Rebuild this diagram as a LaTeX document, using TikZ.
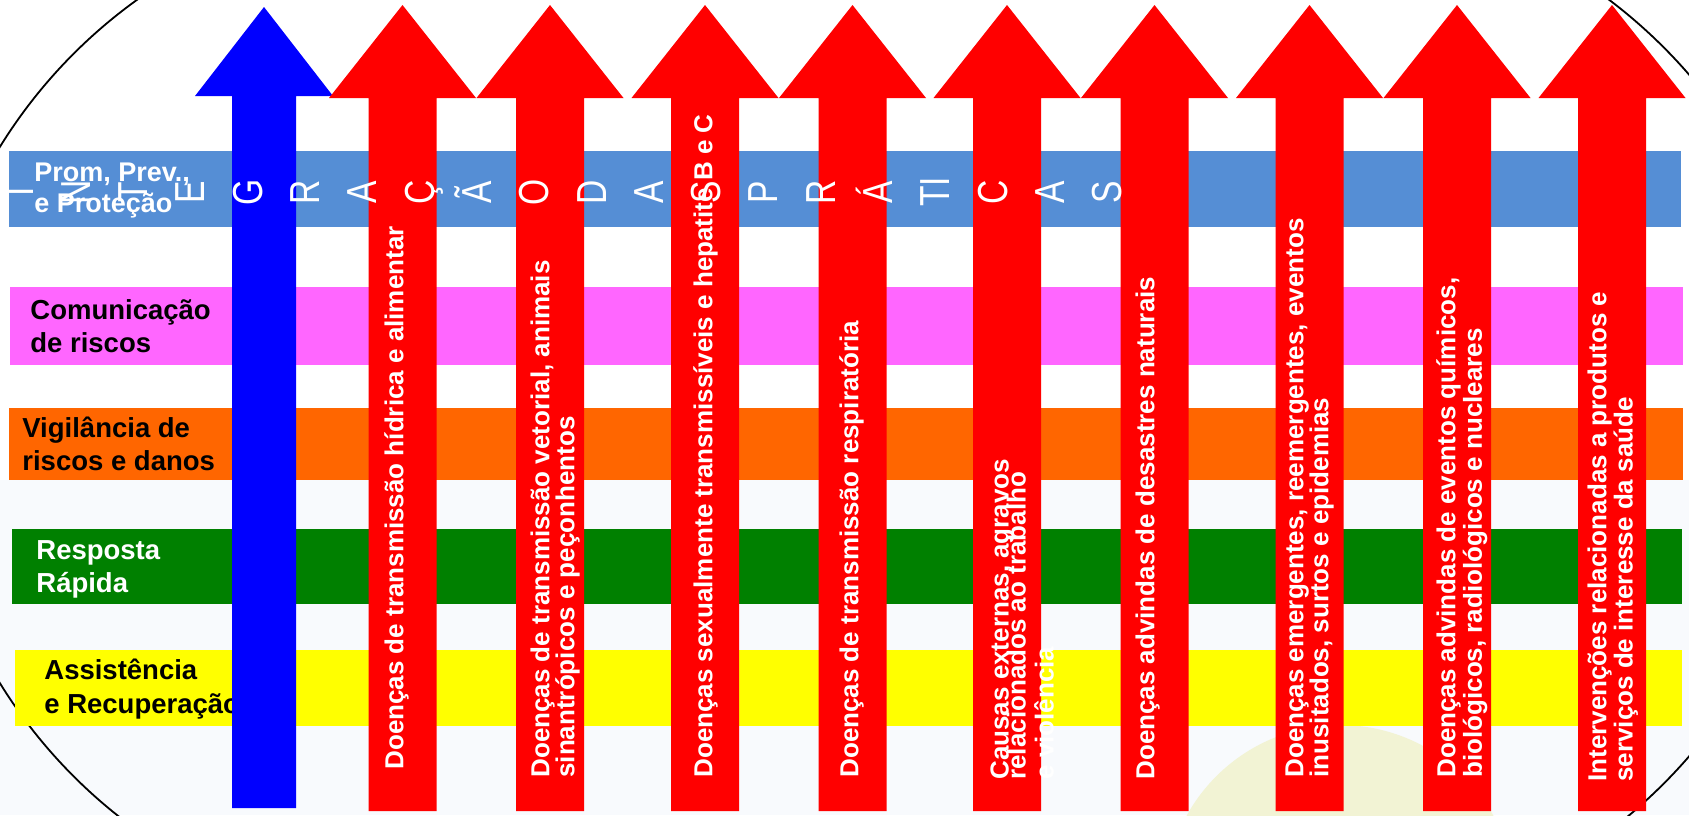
\documentclass[tikz,border=0pt]{standalone}
\usepackage{fontspec}
\setmainfont{Liberation Sans}
\definecolor{promblue}{RGB}{85,142,213}
\definecolor{commpink}{RGB}{255,102,255}
\definecolor{vigorange}{RGB}{255,102,0}
\definecolor{respgreen}{RGB}{0,128,0}
\definecolor{assistyellow}{RGB}{255,255,0}
\definecolor{arrowred}{RGB}{255,0,0}
\definecolor{arrowblue}{RGB}{0,0,255}
\definecolor{groundtint}{RGB}{248,250,253}
\definecolor{sunyellow}{RGB}{242,243,212}

\begin{document}
\begin{tikzpicture}[x=0.5pt, y=-0.5pt,
      band_label/.style ={anchor=north west, inner sep=0pt, align=left,
        font=\bfseries\fontsize{13.75}{16.5}\selectfont},
      arrow_text/.style ={anchor=north west, inner sep=0pt, rotate=90,
        align=left, text=white,
        font=\bfseries\fontsize{13}{12.5}\selectfont},
      big_letter/.style ={anchor=base, inner sep=0pt, rotate=90, xscale=0.8,
        text=white, font=\fontsize{21}{21}\selectfont},
      red_arrow/.style ={fill=arrowred},
      blue_arrow/.style ={fill=arrowblue},
      ring/.style ={draw=black, line width=0.9pt}]
    %
    % 0. page and faint background
    \useasboundingbox (0,0) rectangle (1689,815);
    \fill[white] (0,0) rectangle (1689,815);
    \fill[groundtint] (0,480) rectangle (1689,815);
    \begin{scope}
      \clip (0,0) rectangle (1689,815);
      \fill[sunyellow] (1340,900) circle[radius=175];
    \end{scope}
    %
    % the two big rings, only their ends show
    \coordinate (ring_left) at (435,415);
    \coordinate (ring_right) at (1295,415.5);
    \begin{scope}
      \clip (0,0) rectangle (300,815);
      \draw[ring] (ring_left) circle[radius=511];
    \end{scope}
    \begin{scope}
      \clip (1400,0) rectangle (1689,815);
      \draw[ring] (ring_right) circle[radius=521];
    \end{scope}
    %
    % 1. horizontal bands
    \fill[promblue]     (9,151)  rectangle (1681,227);
    \fill[commpink]     (10,287) rectangle (1683,365);
    \fill[vigorange]    (9,408)  rectangle (1683,480);
    \fill[respgreen]    (12,529) rectangle (1682,604);
    \fill[assistyellow] (15,650) rectangle (1682,726);
    %
    \node [band_label, text=white, font=\bfseries\fontsize{13.5}{15.5}\selectfont]
      (prom) at (34,163) {Prom, Prev.,\\e Proteção};
    \node [band_label] (comm) at (30,299) {Comunicação\\de riscos};
    \node [band_label] (vig) at (22,417) {Vigilância de\\riscos e danos};
    \node [band_label, text=white] (resp) at (36,540) {Resposta\\Rápida};
    \node [band_label, font=\bfseries\fontsize{13.75}{17}\selectfont]
      (assist) at (44,659) {Assistência\\e Recuperação};
    %
    % 2. vertical arrows
    \fill[blue_arrow] (232,808) -- (232,96) -- (195,96) -- (264,7)
      -- (333,96) -- (296,96) -- (296,808) -- cycle;
    \foreach \cx in {402.5,550,705,852.5,1007,1154.5,1309.5,1457,1612}
      \fill[red_arrow] (\cx-34,811) -- (\cx-34,98) -- (\cx-73.5,98) -- (\cx,5)
        -- (\cx+73.5,98) -- (\cx+34,98) -- (\cx+34,811) -- cycle;
    %
    % texts on the red arrows
    \node [arrow_text] (hidrica) at (384,770)
      {Doenças de transmissão hídrica e alimentar};
    \node [arrow_text] (vetorial) at (530,778)
      {Doenças de transmissão vetorial, animais\\sinantrópicos e peçonhentos};
    \node [arrow_text] (sexual) at (693,778)
      {Doenças sexualmente transmissíveis e hepatite B e C};
    \node [arrow_text] (respir) at (839,778)
      {Doenças de transmissão respiratória};
    \node [arrow_text] (causas) at (990,780)
      {Causas externas, agravos\\[-4pt]relacionados ao trabalho\\[1.5pt]e violência};
    \node [arrow_text] (desastres) at (1135,780)
      {Doenças advindas de desastres naturais};
    \node [arrow_text] (emergentes) at (1285,778)
      {Doenças emergentes, reemergentes, eventos\\inusitados, surtos e epidemias};
    \node [arrow_text, font=\bfseries\fontsize{13}{11.5}\selectfont] (quimicos) at (1436,778)
      {Doenças advindas de eventos químicos,\\biológicos, radiológicos e nucleares};
    \node [arrow_text, font=\bfseries\fontsize{13}{9.5}\selectfont] (produtos) at (1587,782)
      {Intervenções relacionadas a produtos e\\serviços de interesse da saúde};
    %
    % 3. the spaced-out title over the top band
    \foreach \ltr [count=\i from 0] in {I,N,T,E,G,R,A,Ç,Ã,O,D,A,S,P,R,Á,TI,C,A,S}
      \node [big_letter] (letter\i) at ({33+57.3*\i},192) {\ltr};
  \end{tikzpicture}
\end{document}
